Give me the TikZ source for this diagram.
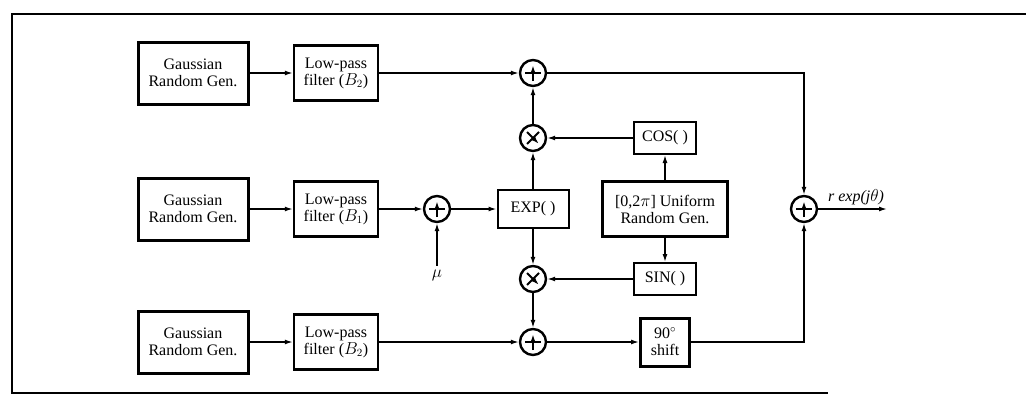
\documentclass[tikz,border=0pt]{standalone}
\usepackage{amsmath}
\usepackage{amssymb}
\usepackage{xcolor}
\usepackage{fontspec}
\setmainfont{Liberation Serif}
\usepackage{tikz}
\usetikzlibrary{positioning, arrows.meta}

\tikzset{
  blk/.style={draw, rectangle, align=center, inner sep=1pt, line width=2pt},
  gbox/.style={blk, minimum width=110pt, minimum height=62pt, line width=3pt},
  lpbox/.style={blk, minimum width=84pt, minimum height=55pt, line width=2.4pt},
  fbox/.style={blk, minimum width=62pt, minimum height=32pt},
  sumnode/.style={circle, draw, line width=2.4pt, minimum size=26pt, inner sep=0pt,
    path picture={\draw[line width=2pt] (path picture bounding box.center)
      +(-8pt,0) -- +(8pt,0) +(0,-8pt) -- +(0,8pt);}},
  mulnode/.style={circle, draw, line width=2.4pt, minimum size=26pt, inner sep=0pt,
    path picture={\draw[line width=2pt] (path picture bounding box.center)
      +(-6pt,-6pt) -- +(6pt,6pt) +(-6pt,6pt) -- +(6pt,-6pt);}}
}

\begin{document}
\begin{tikzpicture}[x=1pt,y=-1pt,->,>={Latex[length=8pt,width=5pt]},line width=1.4pt,
    font=\fontsize{16}{17}\selectfont]
    \useasboundingbox (0,0) rectangle (1026,402);
    \draw[-,line width=2.4pt] (1026,14) -- (12,14) -- (12,393) -- (828,393);

    % three noise branches
    \node[gbox] (g1) at (193,73) {Gaussian\\Random Gen.};
    \node[lpbox] (lp1) [right of=g1, node distance=143pt] {Low-pass\\filter ($B_2$)};
    \node[sumnode] (a1) [right of=lp1, node distance=197pt] {};

    \node[gbox] (g2) [below of=g1, node distance=136pt] {Gaussian\\Random Gen.};
    \node[lpbox] (lp2) [right of=g2, node distance=143pt] {Low-pass\\filter ($B_1$)};
    \node[sumnode] (am) [right of=lp2, node distance=101pt] {};
    \node (mu) [below of=am, node distance=66pt] {$\mu$};
    \node[fbox, minimum width=71pt, minimum height=38pt] (ex) [right of=am, node distance=96pt] {EXP( )};

    \node[gbox] (g3) [below of=g2, node distance=133pt] {Gaussian\\Random Gen.};
    \node[lpbox] (lp3) [right of=g3, node distance=143pt] {Low-pass\\filter ($B_2$)};
    \node[sumnode] (a3) [right of=lp3, node distance=197pt] {};

    % phase part
    \node[mulnode] (m1) [above of=ex, node distance=71pt] {};
    \node[mulnode] (m2) [below of=ex, node distance=70pt] {};
    \node[blk, minimum width=125pt, minimum height=55pt, line width=3pt] (uni) [right of=ex, node distance=132pt] {[0,2$\pi$] Uniform\\Random Gen.};
    \node[fbox] (cs) [above of=uni, node distance=71pt] {COS( )};
    \node[fbox] (sn) [below of=uni, node distance=70pt] {SIN( )};
    \node[blk, minimum width=49pt, minimum height=48pt, line width=3pt] (sh) [right of=a3, node distance=132pt] {90$^\circ$\\shift};
    \node[sumnode] (af) [right of=uni, node distance=139pt] {};
    \node[coordinate] (out) [right of=af, node distance=83pt] {};

    \draw (g1) -- (lp1);
    \draw (lp1) -- (a1);
    \draw (g2) -- (lp2);
    \draw (lp2) -- (am);
    \draw (mu) -- (am);
    \draw (am) -- (ex);
    \draw (g3) -- (lp3);
    \draw (lp3) -- (a3);
    \draw (ex) -- (m1);
    \draw (m1) -- (a1);
    \draw (ex) -- (m2);
    \draw (m2) -- (a3);
    \draw (uni) -- (cs);
    \draw (uni) -- (sn);
    \draw (cs) -- (m1);
    \draw (sn) -- (m2);
    \draw (a3) -- (sh);
    \draw (a1) -| (af);
    \draw (sh) -| (af);
    \draw (af) -- node[above, pos=0.55] {\textit{r exp(j}$\theta$\textit{)}} (out);
\end{tikzpicture}
\end{document}
